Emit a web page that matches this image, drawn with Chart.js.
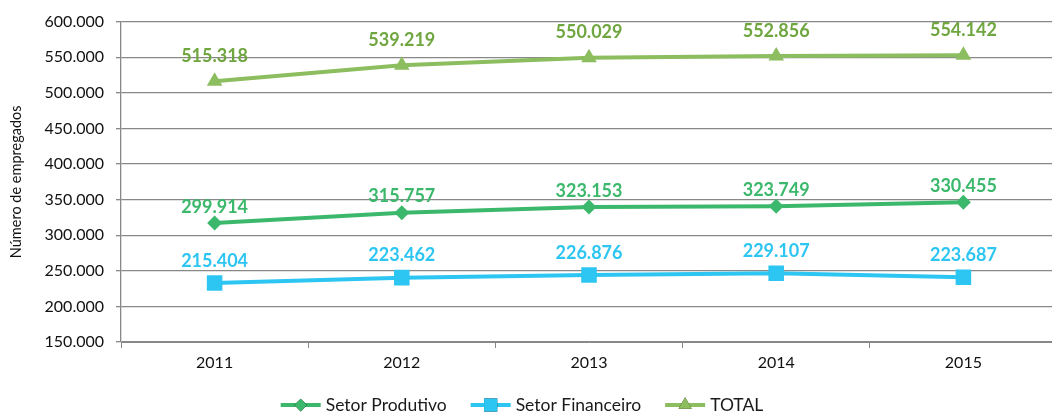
<!DOCTYPE html>
<html>
<head>
<meta charset="utf-8">
<script src="https://cdn.jsdelivr.net/npm/chart.js@4"></script>
<style>
html,body{margin:0;padding:0;background:#fff;overflow:hidden;width:1052px;height:414px}
canvas{display:block}
</style>
</head>
<body>
<canvas id="grafico" width="1068" height="414"></canvas>
<script>
// anos e valores (posições)
const anos = ["2011","2012","2013","2014","2015"];
const produtivo = [317100, 331700, 339600, 340600, 346200];
const financeiro = [232900, 240400, 244100, 246500, 240900];
const total = [516100, 538600, 549400, 551700, 552700];
// rótulos impressos sobre os pontos
const rotProdutivo = ["299.914","315.757","323.153","323.749","330.455"];
const rotFinanceiro = ["215.404","223.462","226.876","229.107","223.687"];
const rotTotal = ["515.318","539.219","550.029","552.856","554.142"];
const yMin = 150000, yMax = 600000, yPasso = 50000;

const corProd = "#3cb86c", corFin = "#2dc5f2", corTot = "#8cbd5e";
const cinza = "#888888";

function milhar(v){
  return String(v).replace(/\B(?=(\d{3})+(?!\d))/g, ".");
}

// rótulos de dados
const rotulos = {
  id: "rotulos",
  afterDatasetsDraw(chart){
    const ctx = chart.ctx;
    ctx.save();
    ctx.font = "bold 18px Lato";
    ctx.textAlign = "center";
    ctx.textBaseline = "middle";
    chart.data.datasets.forEach((ds, i) => {
      const meta = chart.getDatasetMeta(i);
      ctx.fillStyle = ds.corRotulo;
      meta.data.forEach((pt, j) => {
        ctx.fillText(ds.rotulos[j], pt.x, pt.y - ds.distRotulo);
      });
    });
    ctx.restore();
  }
};

// legenda com linha + marcador
const legenda = {
  id: "legenda",
  afterDraw(chart){
    const ctx = chart.ctx;
    ctx.save();
    ctx.font = "17.5px Lato";
    ctx.textBaseline = "middle";
    const y = 405, linha = 40, gap = 5, espaco = 24;
    const itens = chart.data.datasets;
    let larg = 0;
    itens.forEach((ds, i) => {
      larg += linha + gap + ctx.measureText(ds.label).width;
      if(i < itens.length - 1) larg += espaco;
    });
    let x = 522 - larg/2;
    itens.forEach(ds => {
      ctx.strokeStyle = ds.borderColor;
      ctx.lineWidth = 4;
      ctx.beginPath();
      ctx.moveTo(x, y);
      ctx.lineTo(x + linha, y);
      ctx.stroke();
      Chart.helpers.drawPoint(ctx, {
        pointStyle: ds.pointStyle, radius: ds.pointRadius * 0.85, borderWidth: 0
      }, x + linha/2, y);
      ctx.fillStyle = ds.borderColor;
      ctx.fill();
      ctx.fillStyle = "#1a1a1a";
      ctx.fillText(ds.label, x + linha + gap, y);
      x += linha + gap + ctx.measureText(ds.label).width + espaco;
    });
    ctx.restore();
  }
};

function serie(label, dados, cor, estilo, raio, rots, corRot, dist){
  return {
    label: label, data: dados,
    borderColor: cor, backgroundColor: cor,
    borderWidth: 4, tension: 0,
    pointStyle: estilo, pointRadius: raio, pointHoverRadius: raio,
    pointBackgroundColor: cor, pointBorderColor: cor, pointBorderWidth: 0,
    rotulos: rots, corRotulo: corRot, distRotulo: dist
  };
}

new Chart(document.getElementById("grafico"), {
  type: "line",
  data: {
    labels: anos,
    datasets: [
      serie("Setor Produtivo", produtivo, corProd, "rectRot", 7.5, rotProdutivo, corProd, 16),
      serie("Setor Financeiro", financeiro, corFin, "rect", 11, rotFinanceiro, corFin, 22),
      serie("TOTAL", total, corTot, "triangle", 9, rotTotal, "#70a63f", 25)
    ]
  },
  options: {
    responsive: false,
    animation: false,
    layout: { padding: { top: 21, right: 2, left: 0, bottom: 0 } },
    plugins: { legend: { display: false }, tooltip: { enabled: false } },
    scales: {
      x: {
        offset: true,
        grid: { offset: true, drawOnChartArea: false, drawTicks: true, tickLength: 6, color: cinza },
        border: { display: true, color: cinza, width: 1 },
        ticks: { font: { family: "Lato", size: 16 }, color: "#111", padding: 5 },
        afterFit(s){ s.height = 72; }
      },
      y: {
        min: yMin, max: yMax,
        ticks: { stepSize: yPasso, font: { family: "Lato", size: 16 }, color: "#111", padding: 12,
                 callback: v => milhar(v) },
        grid: { color: cinza, lineWidth: 1.3, tickLength: 5 },
        border: { display: true, color: cinza, width: 1.3 },
        title: { display: true, text: "Número de empregados", font: { family: "Lato", size: 14.5 },
                 color: "#111", padding: { top: 8, bottom: 0 } },
        afterFit(s){ s.width = 121; }
      }
    }
  },
  plugins: [rotulos, legenda]
});
</script>
</body>
</html>
